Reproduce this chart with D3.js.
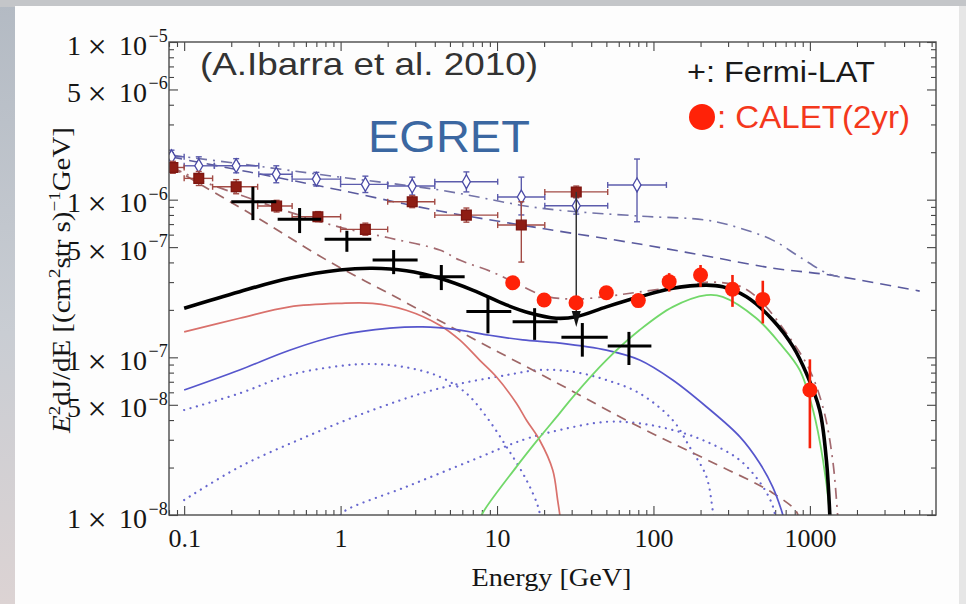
<!DOCTYPE html>
<html>
<head>
<meta charset="utf-8">
<script src="https://cdn.jsdelivr.net/npm/d3@7"></script>
<style>
  body { margin: 0; background: #fff; }
  svg { display: block; }
</style>
</head>
<body>
<div id="chart"></div>
<script>
// E in GeV, flux = E^2 dJ/dE in (cm^2 sr s)^-1 GeV

// [E, Elo, Ehi, flux, fluxLo, fluxHi]
const egretPts = [
  [0.083, 0.08, 0.1, 1.87e-6, 1.70e-6, 2.06e-6],
  [0.124, 0.1, 0.156, 1.64e-6, 1.44e-6, 1.87e-6],
  [0.215, 0.156, 0.3, 1.64e-6, 1.48e-6, 1.82e-6],
  [0.388, 0.3, 0.49, 1.45e-6, 1.28e-6, 1.64e-6],
  [0.70, 0.49, 1.0, 1.35e-6, 1.22e-6, 1.49e-6],
  [1.44, 1.0, 2.0, 1.25e-6, 1.11e-6, 1.41e-6],
  [2.87, 2.0, 4.0, 1.22e-6, 1.07e-6, 1.39e-6],
  [6.37, 4.0, 10.1, 1.30e-6, 1.12e-6, 1.50e-6],
  [14.3, 10.1, 20.2, 1.04e-6, 8.0e-7, 1.39e-6],
  [32.1, 20.2, 51, 9.15e-7, 8.1e-7, 1.03e-6],
  [78.5, 51, 121, 1.24e-6, 7.24e-7, 1.81e-6]
];

const redPts = [
  [0.0847, 0.08, 0.1, 1.60e-6, 1.47e-6, 1.75e-6],
  [0.124, 0.1, 0.152, 1.365e-6, 1.23e-6, 1.51e-6],
  [0.215, 0.152, 0.295, 1.207e-6, 1.09e-6, 1.34e-6],
  [0.39, 0.295, 0.49, 9.11e-7, 8.35e-7, 9.9e-7],
  [0.716, 0.49, 1.0, 7.79e-7, 7.25e-7, 8.4e-7],
  [1.44, 1.0, 2.0, 6.48e-7, 5.95e-7, 7.1e-7],
  [2.87, 2.0, 4.0, 9.7e-7, 8.9e-7, 1.06e-6],
  [6.37, 4.0, 10.1, 7.98e-7, 7.2e-7, 8.85e-7],
  [14.3, 10.1, 20.2, 6.9e-7, 4.02e-7, 9.7e-7],
  [32.1, 20.2, 51, 1.12e-6, 1.03e-6, 1.22e-6]
];

// [E, flux from, flux to] : arrow going down
const egretLimit = [32.1, 1.12e-6, 1.56e-7];

const fermiPts = [
  [0.275, 0.200, 0.388, 9.70e-7, 7.42e-7, 1.207e-6],
  [0.547, 0.396, 0.752, 7.50e-7, 6.14e-7, 8.85e-7],
  [1.097, 0.79, 1.571, 5.60e-7, 4.67e-7, 6.35e-7],
  [2.183, 1.602, 3.107, 4.14e-7, 3.37e-7, 4.79e-7],
  [4.405, 3.20, 6.21, 3.24e-7, 2.67e-7, 3.85e-7],
  [8.75, 6.37, 12.34, 1.95e-7, 1.42e-7, 2.42e-7],
  [17.39, 12.58, 24.4, 1.68e-7, 1.29e-7, 2.05e-7],
  [35.1, 25.8, 51, 1.34e-7, 1.01e-7, 1.65e-7],
  [69.7, 51, 97, 1.18e-7, 8.94e-8, 1.45e-7]
];

// [E, flux, lo, hi]
const caletPts = [
  [12.6, 2.97e-7, null, null],
  [20, 2.31e-7, null, null],
  [32, 2.22e-7, null, null],
  [50, 2.57e-7, null, null],
  [80, 2.29e-7, null, null],
  [126, 3.02e-7, 2.61e-7, 3.42e-7],
  [200, 3.33e-7, 2.80e-7, 3.85e-7],
  [320, 2.70e-7, 2.09e-7, 3.33e-7],
  [500, 2.33e-7, 1.64e-7, 3.06e-7],
  [1000, 6.2e-8, 2.65e-8, 9.71e-8]
];

// model curves [E, flux]
const totalCurve = [
  [0.1, 2.05e-7], [0.226, 2.61e-7], [0.472, 3.17e-7], [0.985, 3.58e-7], [1.60, 3.67e-7],
  [2.63, 3.54e-7], [4.30, 3.17e-7], [6.98, 2.67e-7], [11.47, 2.15e-7], [16.16, 1.91e-7],
  [23.9, 1.77e-7], [32.1, 1.81e-7], [50, 2.09e-7], [81.6, 2.42e-7], [133, 2.74e-7],
  [218, 2.87e-7], [277, 2.80e-7], [393, 2.42e-7], [581, 1.72e-7], [780, 1.17e-7],
  [950, 7.91e-8], [1155, 4.63e-8], [1275, 2.23e-8], [1339, 1.03e-8], [1345, 9.0e-9]
];

const redCurve = [
  [0.1, 1.45e-7], [0.226, 1.77e-7], [0.472, 2.09e-7], [0.985, 2.20e-7], [1.60, 2.20e-7],
  [2.63, 1.99e-7], [4.30, 1.60e-7], [5.77, 1.29e-7], [7.74, 9.61e-8], [9.9, 7.53e-8],
  [13.3, 5.11e-8], [15.4, 4.0e-8], [18.7, 2.99e-8], [22.7, 1.93e-8], [24.4, 1.245e-8],
  [25.6, 9.0e-9]
];

const blueCurve = [
  [0.1, 6.20e-8], [0.226, 8.31e-8], [0.472, 1.11e-7], [0.985, 1.38e-7], [2.06, 1.53e-7],
  [3.34, 1.56e-7], [5.49, 1.50e-7], [8.97, 1.38e-7], [14.6, 1.29e-7], [25.1, 1.23e-7],
  [50, 1.11e-7], [81.6, 9.61e-8], [132.7, 7.18e-8], [218, 4.86e-8], [356, 3.14e-8],
  [478, 2.13e-8], [578, 1.51e-8], [657, 1.076e-8], [690, 9.0e-9]
];

const greenCurve = [
  [7.7, 9.0e-9], [8.1, 1.03e-8], [13.3, 2.02e-8], [17.8, 2.92e-8], [25.1, 4.41e-8],
  [30.6, 5.62e-8], [50, 9.61e-8], [81.6, 1.49e-7], [133, 2.09e-7], [218, 2.48e-7],
  [277, 2.42e-7], [455, 1.77e-7], [641, 1.23e-7], [861, 8.31e-8], [1047, 4.63e-8],
  [1213, 2.23e-8], [1339, 1.03e-8], [1350, 9.0e-9]
];

const dottedA = [
  [0.1, 4.63e-8], [0.226, 5.91e-8], [0.472, 7.72e-8], [0.985, 8.81e-8], [1.60, 9.07e-8],
  [2.63, 8.64e-8], [4.30, 7.53e-8], [6.37, 5.91e-8], [8.55, 4.20e-8], [11.5, 2.71e-8],
  [15.4, 1.67e-8], [18.3, 1.129e-8], [19.2, 9.0e-9]
];

const dottedB = [
  [0.1, 1.245e-8], [0.226, 2.02e-8], [0.6035, 3.14e-8], [1.60, 4.63e-8], [4.30, 6.36e-8],
  [11.5, 7.72e-8], [18.7, 8.31e-8], [30.6, 8.10e-8], [50, 7.18e-8], [81.6, 5.91e-8],
  [132.7, 4.0e-8], [170, 2.71e-8], [218, 1.75e-8], [239, 1.076e-8], [245, 9.0e-9]
];

const dottedC = [
  [1.0, 1.0e-8], [1.087, 1.076e-8], [2.63, 1.51e-8], [6.98, 2.23e-8], [14.6, 2.99e-8],
  [25.1, 3.46e-8], [50, 3.90e-8], [81.6, 3.81e-8], [133, 3.46e-8], [218, 2.92e-8],
  [356, 2.23e-8], [501, 1.51e-8], [581, 1.129e-8], [610, 9.0e-9]
];

const brownDashed = [
  [0.083, 1.61e-6], [0.1255, 1.26e-6], [0.303, 7.53e-7], [0.814, 4.14e-7], [2.38, 2.34e-7],
  [6.68, 1.35e-7], [23.6, 6.97e-8], [81.6, 3.61e-8], [222, 2.23e-8], [578, 1.38e-8],
  [823, 1.045e-8], [850, 9.0e-9]
];

const brownDashDot = [
  [0.083, 1.61e-6], [0.1255, 1.33e-6], [0.262, 1.02e-6], [0.472, 8.34e-7], [0.985, 6.70e-7],
  [2.06, 5.71e-7], [4.30, 4.79e-7], [5.77, 4.14e-7], [9.37, 3.47e-7], [13.95, 2.87e-7],
  [20.15, 2.45e-7], [31.3, 2.34e-7], [52.5, 2.45e-7], [81.6, 2.60e-7], [170, 2.87e-7],
  [229, 3.00e-7], [356, 2.83e-7], [478, 2.31e-7], [743, 1.33e-7], [997, 8.31e-8],
  [1225, 4.63e-8], [1399, 2.23e-8], [1505, 1.0e-8], [1520, 9.0e-9]
];

const blueDashed = [
  [0.083, 1.863e-6], [0.262, 1.496e-6], [0.985, 1.151e-6], [4.30, 8.47e-7], [18.7, 6.61e-7],
  [81.6, 5.23e-7], [218, 4.39e-7], [578, 3.68e-7], [1339, 3.33e-7], [5035, 2.63e-7]
];

const blueDashDot = [
  [0.083, 1.918e-6], [0.262, 1.657e-6], [0.985, 1.391e-6], [4.30, 1.151e-6], [18.7, 8.85e-7],
  [81.6, 7.87e-7], [218, 7.42e-7], [356, 6.61e-7], [578, 5.54e-7], [861, 4.33e-7],
  [1281, 3.42e-7], [1551, 3.23e-7]
];

const xTickVals = [0.1, 1, 10, 100, 1000];
const xTickLabels = ['0.1', '1', '10', '100', '1000'];
const yTickVals = [1e-5, 5e-6, 1e-6, 5e-7, 1e-7, 5e-8, 1e-8];
const yTickLabels = [['1', '5'], ['5', '6'], ['1', '6'], ['5', '7'], ['1', '7'], ['5', '8'], ['1', '8']];

const W = 966, H = 604;
const serif = "'Liberation Serif', 'Times New Roman', serif";
const sans = "'Liberation Sans', Arial, Helvetica, sans-serif";

const svg = d3.select('#chart').append('svg')
  .attr('width', W)
  .attr('height', H);

const defs = svg.append('defs');

// slide backdrop
const bg = defs.append('linearGradient').attr('id', 'bg')
  .attr('x1', 0).attr('y1', 0).attr('x2', 0).attr('y2', 1);
bg.append('stop').attr('offset', '0%').attr('stop-color', '#b3bac3');
bg.append('stop').attr('offset', '55%').attr('stop-color', '#c9cdd3');
bg.append('stop').attr('offset', '100%').attr('stop-color', '#dcd3d3');
svg.append('rect').attr('width', W).attr('height', H).attr('fill', 'url(#bg)');
svg.append('rect').attr('x', 0).attr('y', 0).attr('width', W).attr('height', 7).attr('fill', '#c4c6c9');
svg.append('rect').attr('x', 15).attr('y', 6).attr('width', 944).attr('height', H - 6).attr('fill', '#fdfdfd');
svg.append('rect').attr('x', 959).attr('y', 6).attr('width', 7).attr('height', H - 6).attr('fill', '#e6e6e6');

const x = d3.scaleLog().domain([0.08, 6400]).range([169, 936]);
const y = d3.scaleLog().domain([1e-8, 1e-5]).range([515, 42]);

defs.append('clipPath').attr('id', 'plot')
  .append('rect')
  .attr('x', x.range()[0]).attr('y', y.range()[1])
  .attr('width', x.range()[1] - x.range()[0])
  .attr('height', y.range()[0] - y.range()[1]);

// minor tick values
const xMinor = [];
for (let e = -2; e <= 3; e++) {
  for (let m = 2; m <= 9; m++) {
    const v = m * Math.pow(10, e);
    if (v >= 0.08 && v <= 6400) xMinor.push(v);
  }
}
const yMinor = [];
for (let e = -8; e <= -6; e++) {
  [2, 3, 4, 6, 7, 8, 9].forEach(m => yMinor.push(m * Math.pow(10, e)));
}

function styleAxis(g) {
  g.select('.domain').remove();
  g.selectAll('.tick line').attr('stroke', '#444').attr('stroke-width', 1.1);
}

svg.append('g').attr('transform', 'translate(0,515)')
  .call(d3.axisBottom(x).tickValues(xTickVals).tickFormat((d, i) => xTickLabels[i])
    .tickSize(-9).tickSizeOuter(0).tickPadding(14))
  .call(styleAxis)
  .call(g => g.selectAll('text')
    .attr('font-family', serif).attr('font-size', 26).attr('fill', '#151515'));
svg.append('g').attr('transform', 'translate(0,515)')
  .call(d3.axisBottom(x).tickValues(xMinor).tickFormat('').tickSize(-5).tickSizeOuter(0))
  .call(styleAxis);
svg.append('g').attr('transform', 'translate(0,42)')
  .call(d3.axisTop(x).tickValues(xTickVals).tickFormat('').tickSize(-9).tickSizeOuter(0))
  .call(styleAxis);
svg.append('g').attr('transform', 'translate(0,42)')
  .call(d3.axisTop(x).tickValues(xMinor).tickFormat('').tickSize(-5).tickSizeOuter(0))
  .call(styleAxis);
svg.append('g').attr('transform', 'translate(169,0)')
  .call(d3.axisLeft(y).tickValues(yTickVals).tickFormat('').tickSize(-9).tickSizeOuter(0))
  .call(styleAxis);
svg.append('g').attr('transform', 'translate(169,0)')
  .call(d3.axisLeft(y).tickValues(yMinor).tickFormat('').tickSize(-5).tickSizeOuter(0))
  .call(styleAxis);
svg.append('g').attr('transform', 'translate(936,0)')
  .call(d3.axisRight(y).tickValues(yTickVals).tickFormat('').tickSize(-9).tickSizeOuter(0))
  .call(styleAxis);
svg.append('g').attr('transform', 'translate(936,0)')
  .call(d3.axisRight(y).tickValues(yMinor).tickFormat('').tickSize(-5).tickSizeOuter(0))
  .call(styleAxis);

// y tick labels  m×10^-e
const yl = svg.append('g').attr('font-family', serif).attr('fill', '#151515');
yTickVals.forEach((v, i) => {
  const [m, ex] = yTickLabels[i];
  const by = y(v) + 12.5;
  yl.append('text').attr('x', 67).attr('y', by).attr('font-size', 28).text(m);
  yl.append('text').attr('x', 97).attr('y', by + 3).attr('text-anchor', 'middle')
    .attr('font-size', 34).text('\u00d7');
  yl.append('text').attr('x', 147).attr('y', by).attr('text-anchor', 'end')
    .attr('font-size', 28).text('10');
  yl.append('text').attr('x', 148.5).attr('y', by - 12.5).attr('font-size', 18).text('\u2212' + ex);
});

// text that gets stretched to a measured width
function fitText(px, py, width, anchor, build) {
  const g = svg.append('g');
  const t = g.append('text').attr('text-anchor', anchor);
  build(t);
  const len = t.node().getComputedTextLength();
  g.attr('transform', `translate(${px},${py}) scale(${width / len},1)`);
  return g;
}

fitText(551.5, 586, 160, 'middle', t => t
  .attr('font-family', serif).attr('font-size', 26).attr('fill', '#151515')
  .text('Energy [GeV]'));

const yTitle = fitText(0, 0, 306, 'middle', t => {
  t.attr('font-family', serif).attr('font-size', 26).attr('fill', '#151515');
  t.append('tspan').attr('font-style', 'italic').text('E');
  t.append('tspan').attr('font-size', 17).attr('dy', -10).text('2');
  t.append('tspan').attr('dy', 10).text('dJ/dE [(cm');
  t.append('tspan').attr('font-size', 17).attr('dy', -10).text('2');
  t.append('tspan').attr('dy', 10).text('str s)');
  t.append('tspan').attr('font-size', 17).attr('dy', -10).text('\u22121');
  t.append('tspan').attr('dy', 10).text('GeV]');
});
yTitle.attr('transform', yTitle.attr('transform')
  .replace('translate(0,0)', 'translate(70,280) rotate(-90)'));

// plot contents
const plot = svg.append('g').attr('clip-path', 'url(#plot)');
const line = d3.line()
  .x(d => x(d[0]))
  .y(d => y(d[1]))
  .curve(d3.curveCatmullRom.alpha(0.5));

function drawCurve(data, color, width, dash, cap) {
  plot.append('path')
    .datum(data)
    .attr('d', line)
    .attr('fill', 'none')
    .attr('stroke', color)
    .attr('stroke-width', width)
    .attr('stroke-dasharray', dash || null)
    .attr('stroke-linecap', cap || 'butt')
    .attr('stroke-linejoin', 'round');
}

drawCurve(dottedA, '#6767cf', 2.2, '0.1,6.5', 'round');
drawCurve(dottedB, '#6767cf', 2.2, '0.1,6.5', 'round');
drawCurve(dottedC, '#6767cf', 2.2, '0.1,6.5', 'round');
drawCurve(blueDashed, '#5a5a9e', 1.6, '11,7');
drawCurve(blueDashDot, '#7373a8', 1.6, '11,6,2,6');
drawCurve(brownDashed, '#9e6666', 1.7, '10,7');
drawCurve(brownDashDot, '#a36a70', 1.7, '11,6,2,6');
drawCurve(redCurve, '#d9716c', 1.7);
drawCurve(blueCurve, '#5656cc', 1.7);
drawCurve(greenCurve, '#72d86a', 1.8);
drawCurve(totalCurve, '#000', 3.6);

// binned points with caps
function drawBinned(data, color, barColor, symbol, size, fill) {
  const g = plot.append('g');
  const cap = 3;
  data.forEach(d => {
    const [E, lo, hi, f, flo, fhi] = d;
    const cx = x(E), cy = y(f);
    g.append('line').attr('x1', x(lo)).attr('x2', x(hi)).attr('y1', cy).attr('y2', cy)
      .attr('stroke', barColor).attr('stroke-width', 1.4);
    g.append('line').attr('x1', cx).attr('x2', cx).attr('y1', y(flo)).attr('y2', y(fhi))
      .attr('stroke', barColor).attr('stroke-width', 1.4);
    [x(lo), x(hi)].forEach(ex => g.append('line')
      .attr('x1', ex).attr('x2', ex).attr('y1', cy - cap).attr('y2', cy + cap)
      .attr('stroke', barColor).attr('stroke-width', 1.4));
    [y(flo), y(fhi)].forEach(ey => g.append('line')
      .attr('x1', cx - cap).attr('x2', cx + cap).attr('y1', ey).attr('y2', ey)
      .attr('stroke', barColor).attr('stroke-width', 1.4));
    g.append('path')
      .attr('d', d3.symbol().type(symbol).size(size)())
      .attr('transform', `translate(${cx},${cy})`)
      .attr('fill', fill).attr('stroke', color).attr('stroke-width', 1.3);
  });
}

drawBinned(egretPts, '#4a4aa6', '#5c5cac', d3.symbolDiamond, 55, '#fff');
drawBinned(redPts, '#7e1610', '#a24a44', d3.symbolSquare, 95, '#8e1d14');

// downward arrow
{
  const [E, f0, f1] = egretLimit;
  const ax = x(E);
  plot.append('line').attr('x1', ax).attr('x2', ax).attr('y1', y(f0)).attr('y2', y(f1) - 8)
    .attr('stroke', '#333').attr('stroke-width', 1.5);
  plot.append('path')
    .attr('d', `M${ax - 4.5},${y(f1) - 16} L${ax + 4.5},${y(f1) - 16} L${ax},${y(f1)} Z`)
    .attr('fill', '#111');
}

// Fermi-LAT crosses
const fg = plot.append('g').attr('stroke', '#000').attr('stroke-width', 3);
fermiPts.forEach(d => {
  const [E, lo, hi, f, flo, fhi] = d;
  fg.append('line').attr('x1', x(lo)).attr('x2', x(hi)).attr('y1', y(f)).attr('y2', y(f));
  fg.append('line').attr('x1', x(E)).attr('x2', x(E)).attr('y1', y(flo)).attr('y2', y(fhi));
});

// CALET projection
const cg = plot.append('g');
caletPts.forEach(d => {
  const [E, f, lo, hi] = d;
  if (lo !== null) {
    cg.append('line').attr('x1', x(E)).attr('x2', x(E)).attr('y1', y(lo)).attr('y2', y(hi))
      .attr('stroke', '#f5200a').attr('stroke-width', 2.6);
  }
  cg.append('circle').attr('cx', x(E)).attr('cy', y(f)).attr('r', 7.5).attr('fill', '#ff2208');
});

// frame
svg.append('rect')
  .attr('x', 169).attr('y', 42).attr('width', 936 - 169).attr('height', 515 - 42)
  .attr('fill', 'none').attr('stroke', '#4a4a4a').attr('stroke-width', 1.4);

// annotations
fitText(200, 75, 338, 'start', t => t
  .attr('font-family', sans).attr('font-size', 31).attr('fill', '#333')
  .text('(A.Ibarra et al. 2010)'));
fitText(368, 152, 162, 'start', t => t
  .attr('font-family', sans).attr('font-size', 44).attr('fill', '#3b67a1')
  .text('EGRET'));
fitText(687, 81.5, 188, 'start', t => t
  .attr('font-family', sans).attr('font-size', 30).attr('fill', '#1a1a1a')
  .text('+: Fermi-LAT'));
svg.append('circle').attr('cx', 702).attr('cy', 117).attr('r', 13).attr('fill', '#ff2208');
fitText(717, 127.5, 193, 'start', t => t
  .attr('font-family', sans).attr('font-size', 32).attr('fill', '#f4381c')
  .text(': CALET(2yr)'));
</script>
</body>
</html>
